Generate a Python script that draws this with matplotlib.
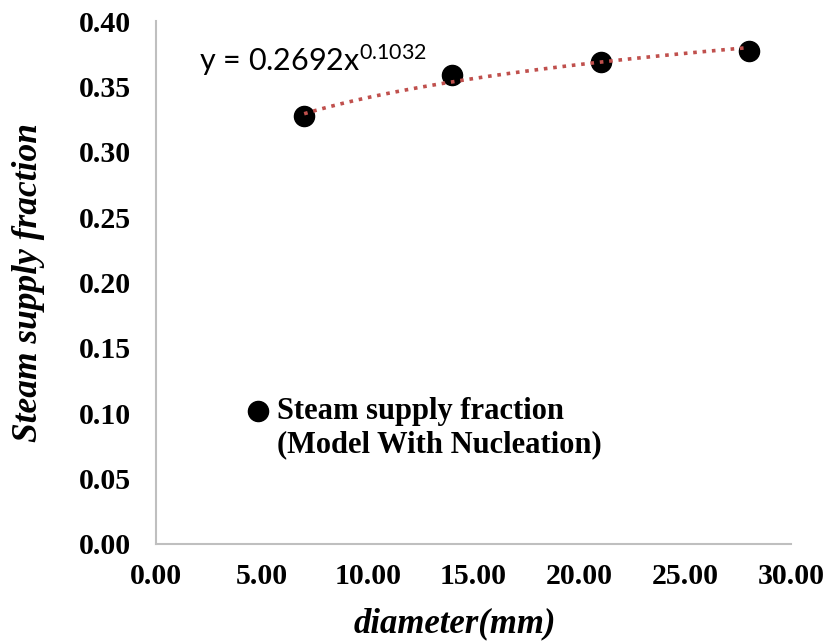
import numpy as np
import matplotlib
matplotlib.use("Agg")
import matplotlib.pyplot as plt

diameter = [7, 14, 21, 28]
steam_fraction = [0.327, 0.359, 0.369, 0.377]
fit_coef = 0.2692
fit_exp = 0.1032
xticks = [0, 5, 10, 15, 20, 25, 30]
yticks = [0.00, 0.05, 0.10, 0.15, 0.20, 0.25, 0.30, 0.35, 0.40]

plt.rcParams["mathtext.fontset"] = "custom"
plt.rcParams["mathtext.rm"] = "Lato"
plt.rcParams["mathtext.it"] = "Lato"

serif = "Liberation Serif"
fig = plt.figure(figsize=(8.26, 6.43), dpi=100)
ax = fig.add_axes([156/826, 1-544/643, (791-156)/826, (544-21)/643])

xf = np.linspace(min(diameter), max(diameter), 200)
ax.plot(xf, fit_coef * xf**fit_exp, linestyle=(0, (1, 1.6)), color="#c0504d",
        linewidth=2.6, zorder=3)
sc = ax.scatter(diameter, steam_fraction, s=14.5**2, color="black", zorder=2,
                label="Steam supply fraction")

ax.set_xlim(0, 30)
ax.set_ylim(0, 0.40)
ax.set_xticks(xticks)
ax.set_yticks(yticks)
ax.set_xticklabels([f"{v:.2f}" for v in xticks], fontfamily=serif, fontweight="bold", fontsize=21.5)
ax.set_yticklabels([f"{v:.2f}" for v in yticks], fontfamily=serif, fontweight="bold", fontsize=21.5)
ax.tick_params(axis="y", length=0, pad=18)
ax.tick_params(axis="x", length=0, pad=14)
for s in ["top", "right"]:
    ax.spines[s].set_visible(False)
for s in ["left", "bottom"]:
    ax.spines[s].set_color("#bfbfbf")
    ax.spines[s].set_linewidth(1.5)

ax.set_xlabel("diameter(mm)", fontfamily=serif, fontweight="bold", fontstyle="italic",
              fontsize=25, va="center")
ax.xaxis.set_label_coords(0.47, (544-624)/523)
ax.set_ylabel("Steam supply fraction", fontfamily=serif, fontweight="bold", fontstyle="italic",
              fontsize=25.5, va="center")
ax.yaxis.set_label_coords((29-156)/635, 0.5)

ax.text(199/826, 1-71/643, r"y = 0.2692x$^{\mathrm{0.1032}}$", transform=fig.transFigure,
        fontfamily="Lato", fontsize=22, ha="left", va="baseline")

leg = ax.legend(loc="center left", bbox_to_anchor=(240/826, 1-412/643),
                bbox_transform=fig.transFigure, frameon=False, handletextpad=0.0,
                prop={"family": serif, "weight": "bold", "size": 22},
                borderpad=0, borderaxespad=0, handlelength=1.2)

fig.canvas.draw()
t = leg.get_texts()[0]
bb = t.get_window_extent()
fig.text(bb.x0 / fig.bbox.width, 1-445/643, "(Model With Nucleation)",
         fontfamily=serif, fontweight="bold", fontsize=22, ha="left", va="center")

fig.savefig("out.png", dpi=100)
